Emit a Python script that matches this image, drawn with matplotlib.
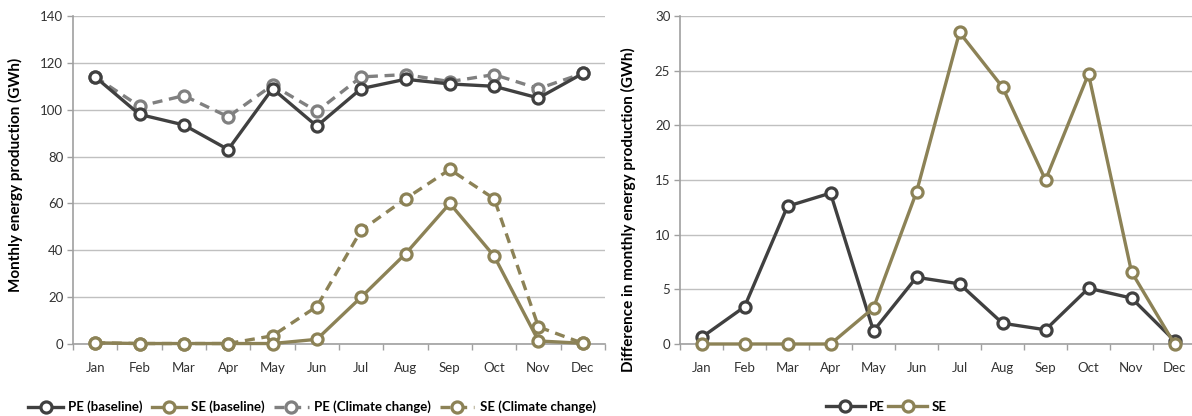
import numpy as np
import matplotlib
matplotlib.use("Agg")
import matplotlib.pyplot as plt
from matplotlib.lines import Line2D

plt.rcParams['font.family'] = ['Lato', 'DejaVu Sans']

months = ["Jan", "Feb", "Mar", "Apr", "May", "Jun", "Jul", "Aug", "Sep", "Oct", "Nov", "Dec"]

pe_base = [114, 98, 93.5, 83, 109, 93, 109, 113, 111, 110, 105, 115.5]
se_base = [0.5, 0.2, 0.2, 0.2, 0.2, 2, 20, 38.5, 60, 37.5, 1.3, 0.3]
pe_cc = [114, 101.5, 106, 97, 110.5, 99.3, 114, 115, 112, 115, 109, 115.5]
se_cc = [0.5, 0.2, 0.2, 0.2, 3.5, 16, 48.5, 62, 74.5, 62, 7.3, 0.3]

pe_diff = [0.6, 3.4, 12.6, 13.8, 1.2, 6.1, 5.5, 1.9, 1.3, 5.1, 4.2, 0.3]
se_diff = [0, 0, 0, 0, 3.3, 13.9, 28.5, 23.5, 15, 24.7, 6.6, 0]

dark = "#404040"
olive = "#8c8256"
grey = "#808080"
gridc = "#c0c0c0"
axc = "#a0a0a0"

W, H = 1192, 416
fig = plt.figure(figsize=(W / 100, H / 100), dpi=100)

ax1 = fig.add_axes([73 / W, 72 / H, 532 / W, 328 / H])
ax2 = fig.add_axes([680 / W, 72 / H, 516 / W, 328 / H])

x = np.arange(len(months))
mk = dict(marker="o", markersize=8, markerfacecolor="white", markeredgewidth=2.3)


def style(ax, ymax, step):
    ax.set_xlim(-0.5, 11.5)
    ax.set_ylim(0, ymax)
    ax.set_yticks(np.arange(0, ymax + 1, step))
    ax.set_yticklabels([str(v) for v in np.arange(0, ymax + 1, step)], fontsize=9.5, color="#333333")
    ax.set_xticks(x)
    ax.set_xticklabels(["\n" + m for m in months], fontsize=9.5, color="#333333",
                       linespacing=1.15)
    ax.set_xticks(np.arange(-0.5, 12, 1), minor=True)
    ax.tick_params(axis="x", which="major", length=0, pad=3)
    ax.tick_params(axis="x", which="minor", length=4, color=axc, width=1)
    ax.tick_params(axis="y", length=4, color=axc, width=1, pad=3)
    ax.grid(axis="y", color=gridc, linewidth=1)
    ax.set_axisbelow(True)
    for s in ["top", "right"]:
        ax.spines[s].set_visible(False)
    for s in ["left", "bottom"]:
        ax.spines[s].set_color(axc)
        ax.spines[s].set_linewidth(1.2)


ax1.plot(x, pe_base, color=dark, lw=2.4, markeredgecolor=dark, **mk, clip_on=False, zorder=4)
ax1.plot(x, se_base, color=olive, lw=2.4, markeredgecolor=olive, **mk, clip_on=False, zorder=4)
ax1.plot(x, pe_cc, color=grey, lw=2.4, ls=(0, (3, 2)), markeredgecolor=grey, **mk, clip_on=False, zorder=3)
ax1.plot(x, se_cc, color=olive, lw=2.4, ls=(0, (3, 2)), markeredgecolor=olive, **mk, clip_on=False, zorder=3)
style(ax1, 140, 20)

ax2.plot(x, pe_diff, color=dark, lw=2.4, markeredgecolor=dark, **mk, clip_on=False, zorder=4)
ax2.plot(x, se_diff, color=olive, lw=2.4, markeredgecolor=olive, **mk, clip_on=False, zorder=4)
style(ax2, 30, 5)

fig.text(15 / W, 1 - 175 / H, "Monthly energy production (GWh)", rotation=90,
         ha="center", va="center", fontsize=11, fontweight="bold")
fig.text(628 / W, 1 - 210 / H, "Difference in monthly energy production (GWh)", rotation=90,
         ha="center", va="center", fontsize=11, fontweight="bold")

h1 = [Line2D([], [], color=dark, lw=2.4, markeredgecolor=dark, **mk),
      Line2D([], [], color=olive, lw=2.4, markeredgecolor=olive, **mk),
      Line2D([], [], color=grey, lw=2.4, ls=(0, (3, 2)), markeredgecolor=grey, **mk),
      Line2D([], [], color=olive, lw=2.4, ls=(0, (3, 2)), markeredgecolor=olive, **mk)]
l1 = ["PE (baseline)", "SE (baseline)", "PE (Climate change)", "SE (Climate change)"]
fig.legend(h1, l1, loc="center", bbox_to_anchor=(312 / W, 1 - 407 / H), ncol=4,
           frameon=False, handlelength=2.6, columnspacing=0.7, handletextpad=0.4,
           prop={"weight": "bold", "size": 9.5})

fig.legend(h1[:2], ["PE", "SE"], loc="center", bbox_to_anchor=(886 / W, 1 - 407 / H), ncol=2,
           frameon=False, handlelength=3, columnspacing=0.2, handletextpad=0.3,
           prop={"weight": "bold", "size": 9.5})

fig.savefig("out.png", dpi=100)
